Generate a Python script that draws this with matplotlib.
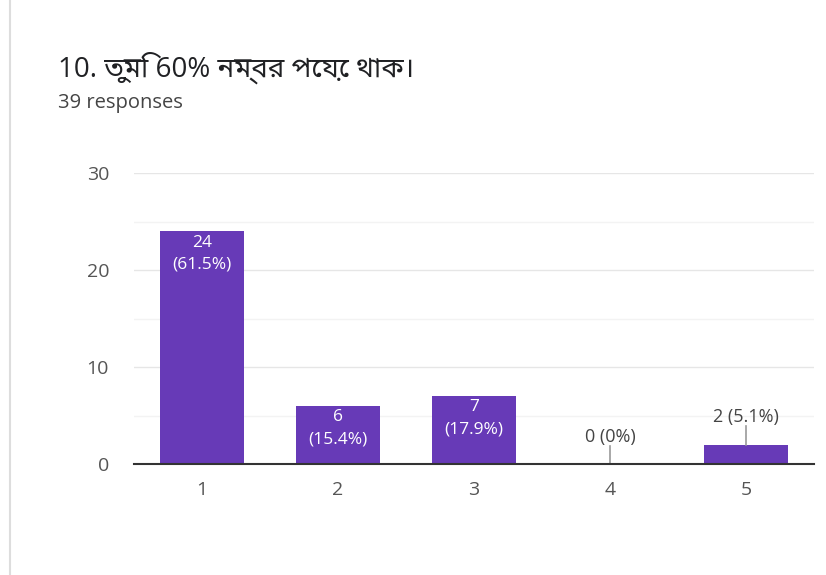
import matplotlib
matplotlib.use('Agg')
import matplotlib.pyplot as plt
import numpy as np

# data
options = [1, 2, 3, 4, 5]
counts = [24, 6, 7, 0, 2]
pcts = ['61.5%', '15.4%', '17.9%', '0%', '5.1%']
title = '10. তুমি 60% নম্বর পেয়ে থাক।'
subtitle = '39 responses'

purple = '#673ab7'
base = 'Open Sans'
fams = ['Open Sans', 'Noto Sans Bengali', 'Noto Serif Bengali', 'Lohit Bengali', 'FreeSans', 'DejaVu Sans']

fig = plt.figure(figsize=(8.26, 5.75), dpi=100)
fig.patch.set_facecolor('white')

ax = fig.add_axes([134/826, 1-464/575, 680/826, 291/575])
ax.bar(options, counts, width=0.62, color=purple, zorder=3)
ax.set_xlim(0.5, 5.5)
ax.set_ylim(0, 30)
ax.set_yticks([0, 10, 20, 30])
ax.set_yticks([5, 15, 25], minor=True)
ax.set_xticks(options)
ax.grid(axis='y', which='major', color='#e6e6e6', lw=1, zorder=0)
ax.grid(axis='y', which='minor', color='#f3f3f3', lw=1, zorder=0)
for s in ['top', 'right', 'left']:
    ax.spines[s].set_visible(False)
ax.spines['bottom'].set_color('#333333')
ax.spines['bottom'].set_linewidth(1.5)
ax.spines['bottom'].set_zorder(4)
ax.tick_params(axis='both', which='both', length=0, labelsize=14, labelcolor='#555555',
               labelfontfamily=base)
ax.tick_params(axis='y', pad=18)
ax.tick_params(axis='x', pad=12)

for x, c, p in zip(options, counts, pcts):
    if c >= 5:
        ax.text(x, c - 0.35, f'{c}\n({p})', ha='center', va='top', color='white',
                fontsize=12.5, family=base, linespacing=1.5, zorder=5)
    else:
        ax.plot([x, x], [c, c + 1.9], color='#999999', lw=1.2, zorder=4)
        ax.text(x, c + 1.9, f'{c} ({p})', ha='center', va='bottom', color='#444444',
                fontsize=13, family=base, zorder=5)

fig.text(58/826, 1-68/575, title, fontsize=20, color='#202124', va='center', family=fams)
fig.text(58/826, 1-103/575, subtitle, fontsize=14.5, color='#444444', va='center', family=base)

# left card border
fig.add_artist(plt.Line2D([10/826, 10/826], [0, 1], color='#dddddd', lw=1.5))

fig.savefig('out.png', dpi=100, facecolor='white')
